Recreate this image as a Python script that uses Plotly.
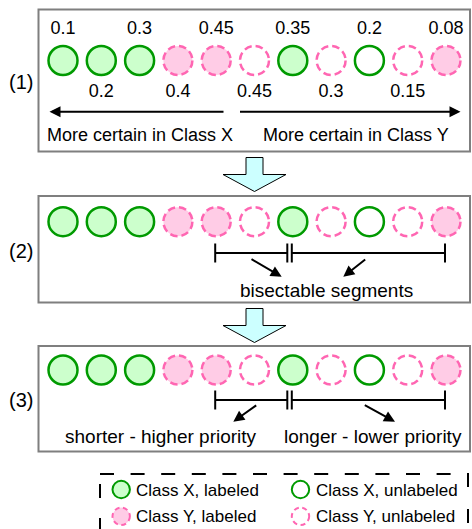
import plotly.graph_objects as go

# ---------------- data ----------------
classes = ["X", "X", "X", "Y", "Y", "Y", "X", "Y", "X", "Y", "Y"]
labeled = [True, True, True, True, True, False, True, False, False, False, True]
certainty = [0.1, 0.2, 0.3, 0.4, 0.45, 0.45, 0.35, 0.3, 0.2, 0.15, 0.08]
certainty_text = ["0.1", "0.2", "0.3", "0.4", "0.45", "0.45", "0.35", "0.3", "0.2", "0.15", "0.08"]
panel_names = ["(1)", "(2)", "(3)"]
segments = [(4, 6), (6, 10)]          # circle index ranges of the bisectable segments
direction_labels = ["More certain in Class X", "More certain in Class Y"]
segment_label = "bisectable segments"
priority_labels = ["shorter - higher priority", "longer - lower priority"]
legend_items = [("X", True, "Class X, labeled"), ("X", False, "Class X, unlabeled"),
                ("Y", True, "Class Y, labeled"), ("Y", False, "Class Y, unlabeled")]

# ---------------- layout constants ----------------
W, H = 472, 529
FONT = "Liberation Sans, Arial, sans-serif"
GREEN, GREEN_FILL = "#009a00", "#ccffcc"
PINK, PINK_FILL = "#ff66b2", "#ffcce6"
X0, DX, R = 63.0, 38.3, 14.5
BOX_X = (38.5, 470)
boxes = [(9.5, 151.5), (196, 302.5), (346, 451.5)]
circle_y = [60.5, 221.7, 370]
seg_y = {1: 253.0, 2: 400.0}


def cx(i):
    return X0 + i * DX


shapes = []
annotations = []


def circle(x, y, r, cls, lab, width, dash):
    if cls == "X":
        line = dict(color=GREEN, width=width)
        fill = GREEN_FILL if lab else "rgba(0,0,0,0)"
    else:
        line = dict(color=PINK, width=width, dash=dash)
        fill = PINK_FILL if lab else "rgba(0,0,0,0)"
    shapes.append(dict(type="circle", xref="x", yref="y", x0=x - r, x1=x + r,
                       y0=y - r, y1=y + r, line=line, fillcolor=fill, layer="above"))


def text(x, y, s, size, anchor="center"):
    annotations.append(dict(x=x, y=y, xref="x", yref="y", text=s, showarrow=False,
                            xanchor=anchor, yanchor="middle",
                            font=dict(family=FONT, size=size, color="black")))


def arrow(x_from, y_from, x_to, y_to):
    annotations.append(dict(x=x_to, y=y_to, ax=x_from, ay=y_from, xref="x", yref="y",
                            axref="x", ayref="y", text="", showarrow=True,
                            arrowhead=2, arrowsize=1.1, arrowwidth=2, arrowcolor="black",
                            standoff=0, startstandoff=0))


# panels
for p, (top, bot) in enumerate(boxes):
    shapes.append(dict(type="rect", xref="x", yref="y", x0=BOX_X[0], x1=BOX_X[1],
                       y0=top, y1=bot, line=dict(color="#7f7f7f", width=2),
                       fillcolor="white", layer="below"))
    text(21, (top + bot) / 2 + 1.5, panel_names[p], 20)
    for i, (c, lab) in enumerate(zip(classes, labeled)):
        circle(cx(i), circle_y[p], R, c, lab, 2.5, "7.5px,4px")

# block arrows between panels
for p in range(2):
    b = boxes[p][1]
    mx = cx(5)
    path = (f"M {mx-8.5},{b+6} L {mx+8.5},{b+6} L {mx+8.5},{b+23} L {mx+31.5},{b+23} "
            f"L {mx},{b+40} L {mx-31.5},{b+23} L {mx-8.5},{b+23} Z")
    shapes.append(dict(type="path", xref="x", yref="y", path=path,
                       fillcolor="#ccffff", line=dict(color="black", width=1)))

# panel 1: direction arrows and labels
arrow(225, 111.7, 49.5, 111.7)
arrow(238.5, 111.7, 460.5, 111.7)
text(139.7, 135, direction_labels[0], 18)
text(355.8, 135, direction_labels[1], 18)

# certainty numbers (alternate above / below)
num_x = [cx(i) for i in range(len(certainty))]
num_y = [29.5 if i % 2 == 0 else 92 for i in range(len(certainty))]

# panels 2 & 3: segments
for p in (1, 2):
    y = seg_y[p]
    (a0, a1), (b0, b1) = segments
    s0 = [cx(a0) - 1, cx(a1) - 5.5]
    s1 = [cx(b0) - 1, cx(b1) - 1]
    for xa, xb in (s0, s1):
        shapes.append(dict(type="line", xref="x", yref="y", x0=xa, x1=xb, y0=y, y1=y,
                           line=dict(color="black", width=2)))
        for xx in (xa, xb):
            shapes.append(dict(type="line", xref="x", yref="y", x0=xx, x1=xx,
                               y0=y - 9.5, y1=y + 9.5, line=dict(color="black", width=2)))

arrow(250, 258.3, 281.7, 276.7)
arrow(366.7, 258.3, 343.3, 276.7)
text(326, 290, segment_label, 19)

arrow(257.7, 404.3, 233.3, 421.7)
arrow(363.3, 404.3, 395, 421.7)
text(161, 436.5, priority_labels[0], 19)
text(373.3, 436.5, priority_labels[1], 19)

# legend box (dashed, runs off the bottom)
shapes.append(dict(type="line", xref="x", yref="y", x0=100, x1=455, y0=474, y1=474,
                   line=dict(color="black", width=2, dash="14px,16.6px")))
shapes.append(dict(type="line", xref="x", yref="y", x0=468, x1=468, y0=473, y1=600,
                   line=dict(color="black", width=2, dash="14px,22px")))
shapes.append(dict(type="line", xref="x", yref="y", x0=100, x1=100, y0=600, y1=474,
                   line=dict(color="black", width=2, dash="14px,20px")))

leg_pos = [(121.2, 489.5), (300.5, 489.5), (121.2, 516.3), (300.5, 516.3)]
for (c, lab, lbl), (lx, ly) in zip(legend_items, leg_pos):
    circle(lx, ly, 8.7, c, lab, 2, "5px,3.5px")
    text(lx + 13, ly + 0.5, lbl, 17, anchor="left")

fig = go.Figure()
fig.add_trace(go.Scatter(x=num_x, y=num_y, text=certainty_text, mode="text",
                         textposition="middle center",
                         textfont=dict(family=FONT, size=18, color="black"),
                         hoverinfo="skip", showlegend=False))

fig.update_layout(
    width=W, height=H, margin=dict(l=0, r=0, t=0, b=0),
    paper_bgcolor="white", plot_bgcolor="white",
    xaxis=dict(range=[0, W], visible=False, fixedrange=True),
    yaxis=dict(range=[H, 0], visible=False, fixedrange=True),
    shapes=shapes, annotations=annotations, showlegend=False,
)
fig.write_html("out.html", config={"displayModeBar": False},
               post_script="document.body.style.margin='0';document.body.style.overflow='hidden';")
